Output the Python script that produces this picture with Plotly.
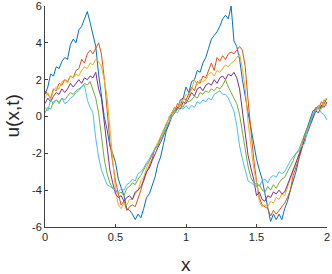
import plotly.graph_objects as go

x_vals = [round(0.02 * k, 2) for k in range(101)]

u_blue = [1.2, 1.6, 2.3, 2.2, 2.7, 2.6, 3.0, 3.2, 3.1, 3.9,
          4.2, 4.0, 4.7, 4.9, 5.3, 5.7, 5.1, 4.4, 3.8, 2.3,
          1.0, 0.0, -0.7, -1.6, -2.0, -2.5, -3.4, -3.9, -4.3, -5.0,
          -5.1, -5.3, -5.6, -5.3, -5.5, -5.0, -4.4, -4.2, -3.7, -3.3,
          -2.6, -2.2, -1.5, -0.8, -0.4, 0.2, 0.5, 0.4, 0.9, 1.0,
          1.6, 1.3, 1.9, 2.0, 2.5, 2.4, 2.9, 3.2, 3.7, 4.2,
          4.4, 4.6, 4.9, 5.3, 5.5, 5.3, 6.0, 4.1, 3.8, 3.1,
          2.0, 1.0, 0.2, -0.6, -1.5, -2.3, -2.9, -3.4, -4.2, -4.9,
          -5.7, -5.3, -5.6, -5.3, -5.6, -5.0, -4.6, -4.0, -3.5, -3.0,
          -2.3, -1.6, -1.0, -0.6, -0.1, 0.3, 0.4, 0.6, 0.5, 0.9,
          0.7]

u_orange = [1.4, 1.2, 1.0, 1.5, 1.4, 1.8, 1.7, 2.0, 1.9, 2.2,
            2.1, 2.5, 2.6, 3.1, 2.9, 3.4, 3.6, 3.4, 3.7, 4.0,
            3.4, 2.1, 0.4, -1.4, -2.5, -3.5, -4.2, -4.8, -4.6, -5.1,
            -4.9, -4.8, -4.9, -4.5, -4.0, -3.4, -3.0, -2.6, -2.3, -1.7,
            -1.6, -1.1, -0.8, -0.4, -0.1, 0.2, 0.3, 0.7, 0.6, 1.0,
            0.9, 1.3, 1.6, 1.4, 1.9, 1.8, 2.2, 2.1, 2.5, 2.9,
            2.5, 3.2, 3.0, 3.3, 3.1, 3.4, 3.5, 3.4, 3.6, 3.8,
            3.6, 2.7, 0.9, -0.9, -2.3, -3.5, -4.4, -4.8, -4.9, -5.0,
            -5.4, -5.1, -5.3, -5.1, -4.9, -4.7, -4.4, -4.0, -3.2, -2.8,
            -2.3, -1.8, -1.3, -0.7, -0.4, 0.1, 0.5, 0.4, 0.8, 0.7,
            1.0]

u_yellow = [1.0, 1.3, 0.9, 1.4, 1.6, 1.5, 1.9, 2.0, 1.8, 2.2,
            2.1, 2.3, 2.2, 2.5, 2.7, 2.6, 2.9, 2.8, 3.1, 3.0,
            2.7, 2.0, 1.1, -0.6, -2.6, -4.0, -4.8, -5.0, -4.7, -4.8,
            -4.5, -4.5, -4.2, -4.0, -3.5, -3.3, -2.8, -2.4, -2.1, -1.7,
            -1.4, -1.1, -0.7, -0.5, 0.0, 0.2, 0.5, 0.4, 0.8, 0.9,
            1.2, 1.1, 1.5, 2.0, 1.7, 2.0, 1.9, 2.0, 2.3, 2.4,
            2.2, 2.5, 2.4, 2.6, 2.8, 2.7, 2.9, 3.0, 3.2, 3.4,
            2.6, 1.5, -0.3, -1.6, -2.8, -3.6, -4.6, -4.9, -4.8, -4.9,
            -4.6, -4.7, -4.4, -4.5, -4.2, -4.3, -3.8, -3.4, -3.0, -2.5,
            -2.1, -1.6, -1.2, -0.7, -0.4, 0.0, 0.3, 0.6, 0.5, 0.9,
            1.0]

u_purple = [0.7, 1.0, 0.8, 1.1, 1.3, 1.2, 1.5, 1.3, 1.5, 1.8,
            1.6, 1.8, 2.0, 1.8, 2.1, 2.0, 2.2, 2.1, 2.4, 1.5,
            1.0, -0.3, -1.7, -2.9, -3.6, -4.2, -4.4, -4.3, -4.6, -4.4,
            -4.3, -4.5, -4.1, -4.0, -3.8, -3.5, -3.0, -2.8, -2.4, -2.0,
            -1.7, -1.4, -1.0, -0.7, -0.4, 0.0, 0.2, 0.5, 0.4, 0.8,
            0.7, 1.0, 1.3, 1.1, 1.5, 1.6, 1.4, 1.7, 1.8, 1.7,
            2.0, 1.8, 2.1, 2.2, 2.0, 2.3, 2.2, 2.4, 2.1, 1.5,
            0.2, -1.1, -2.1, -2.8, -3.4, -4.3, -4.1, -4.5, -4.6, -4.3,
            -4.4, -4.1, -4.2, -4.0, -4.2, -4.1, -3.7, -3.4, -3.0, -2.5,
            -2.1, -1.8, -1.3, -0.9, -0.6, -0.1, 0.3, 0.2, 0.6, 0.5,
            0.8]

u_green = [0.2, 0.5, 0.4, 0.8, 0.9, 0.7, 1.0, 0.9, 1.1, 1.3,
           1.2, 1.4, 1.5, 1.6, 1.8, 1.7, 1.9, 1.4, 1.0, 0.2,
           -1.2, -2.3, -3.1, -3.6, -3.9, -4.0, -4.2, -4.1, -4.3, -3.9,
           -3.8, -3.6, -3.7, -3.4, -3.2, -2.9, -2.6, -2.4, -2.1, -1.8,
           -1.6, -1.2, -1.0, -0.6, -0.3, 0.0, 0.2, 0.4, 0.6, 0.5,
           0.9, 0.8, 0.9, 1.1, 1.0, 1.3, 1.2, 1.4, 1.3, 1.5,
           1.4, 1.6, 1.5, 1.7, 2.0, 1.6, 1.3, 1.0, 0.7, 0.1,
           -0.8, -1.9, -2.7, -3.3, -3.6, -3.8, -3.7, -4.0, -4.1, -3.8,
           -4.0, -3.7, -3.9, -3.6, -3.4, -3.3, -3.0, -2.7, -2.4, -2.0,
           -1.8, -1.4, -1.0, -0.6, -0.3, 0.1, 0.3, 0.5, 0.4, 0.7,
           0.6]

u_cyan = [0.5, 0.3, 0.9, 0.7, 0.9, 0.8, 1.0, 0.7, 0.8, 1.0,
          1.1, 1.3, 1.4, 1.6, 1.7, 0.9, 0.5, 0.2, -1.2, -2.2,
          -2.9, -3.3, -3.7, -3.8, -3.9, -4.0, -4.1, -3.9, -4.0, -3.7,
          -3.6, -3.4, -3.5, -3.1, -3.0, -2.8, -2.5, -2.3, -2.0, -1.8,
          -1.5, -1.3, -0.9, -0.5, -0.3, 0.1, 0.3, 0.2, 0.5, 0.4,
          0.6, 0.4, 0.6, 0.5, 0.8, 0.7, 0.9, 0.8, 1.0, 0.9,
          1.2, 1.3, 1.4, 1.2, 1.2, 1.0, 0.6, 0.3, -0.5, -1.6,
          -2.3, -2.9, -3.5, -3.6, -3.7, -3.6, -3.8, -3.5, -3.4, -3.6,
          -3.3, -3.2, -3.3, -3.0, -3.1, -3.0, -2.7, -2.4, -2.2, -2.0,
          -1.9, -1.6, -1.5, -0.8, -0.4, 0.1, 0.3, 0.5, 0.2, 0.1,
          -0.2]

series = [u_blue, u_orange, u_yellow, u_purple, u_green, u_cyan]
colors = ["#0072BD", "#D95319", "#EDB120", "#7E2F8E", "#77AC30", "#4DBEEE"]

x_ticks = [0, 0.5, 1, 1.5, 2]
x_ticktext = ["0", "0.5", "1", "1.5", "2"]
y_ticks = [-6, -4, -2, 0, 2, 4, 6]
y_ticktext = ["-6", "-4", "-2", "0", "2", "4", "6"]

FONT = "Liberation Sans, Arial, sans-serif"

fig = go.Figure()
for ys, c in zip(series, colors):
    fig.add_trace(go.Scatter(x=x_vals, y=ys, mode="lines",
                             line=dict(color=c, width=1), showlegend=False,
                             hoverinfo="skip"))

axis_common = dict(showline=True, linecolor="#404040", linewidth=1,
                   ticks="inside", ticklen=3, tickcolor="#404040",
                   showgrid=False, zeroline=False, automargin=False,
                   ticklabeloverflow="allow",
                   tickfont=dict(family=FONT, size=11, color="#262626"))

fig.update_layout(
    width=332, height=274,
    margin=dict(l=45, r=5, t=6, b=47),
    paper_bgcolor="white", plot_bgcolor="white",
    xaxis=dict(range=[0, 2], tickvals=x_ticks, ticktext=x_ticktext,
               **axis_common),
    yaxis=dict(range=[-6, 6], tickvals=y_ticks, ticktext=y_ticktext,
               **axis_common),
    annotations=[
        dict(text="x", xref="paper", yref="paper", x=0.5, y=0,
             xanchor="center", yanchor="middle", yshift=-37, showarrow=False,
             font=dict(family=FONT, size=19, color="#262626")),
        dict(text="u(x,t)", xref="paper", yref="paper", x=0, y=0.5,
             xanchor="center", yanchor="middle", xshift=-33, textangle=-90,
             showarrow=False,
             font=dict(family=FONT, size=19, color="#262626")),
    ],
)

fig.write_html("out.html", config={"displayModeBar": False},
               post_script="document.body.style.margin='0px';"
                           "document.body.style.overflow='hidden';")
